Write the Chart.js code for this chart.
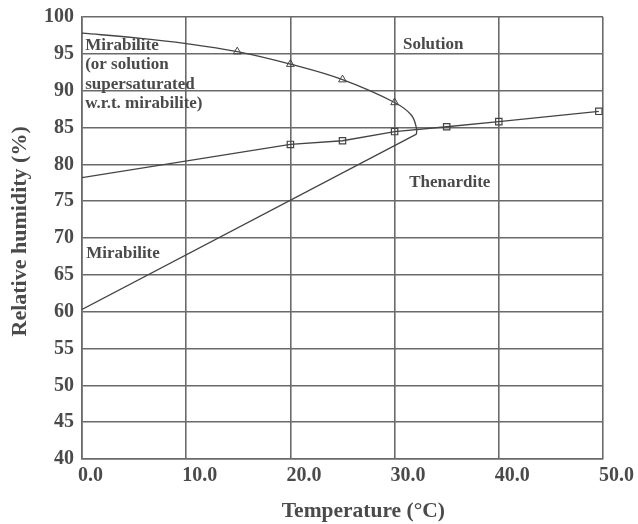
<!DOCTYPE html>
<html lang="en">
<head>
    <meta charset="UTF-8">
    <title>Sodium sulfate phase diagram</title>
    <script src="https://cdn.jsdelivr.net/npm/chart.js"></script>
    <style>
        * { margin: 0; padding: 0; box-sizing: border-box; }
        body { background: #fff; width: 638px; height: 524px; overflow: hidden; }
    </style>
</head>
<body>
    <canvas id="phaseChart" width="638" height="524"></canvas>
    <script>
        // Mirabilite / solution boundary (upper curve, bends back at ~32 C)
        const curveTemp = [0, 5, 10, 14.9, 20, 25, 30, 31.6, 32.1, 32.1];
        const curveRH = [97.8, 97.2, 96.4, 95.3, 93.6, 91.5, 88.4, 86.7, 84.9, 84.1];
        // measured points on that curve (triangles)
        const triTemp = [14.9, 20, 25, 30];
        const triRH = [95.3, 93.6, 91.5, 88.4];
        // mirabilite / thenardite boundary (lower straight branch)
        const lowerTemp = [0, 32.1];
        const lowerRH = [60.3, 84.1];
        // thenardite deliquescence line (squares)
        const thenTemp = [0, 20, 25, 30, 35, 40, 49.6];
        const thenRH = [78.2, 82.7, 83.2, 84.45, 85.1, 85.8, 87.2];
        const thenMarked = [false, true, true, true, true, true, true];

        const xTicks = [0, 10, 20, 30, 40, 50];
        const yTicks = [40, 45, 50, 55, 60, 65, 70, 75, 80, 85, 90, 95, 100];

        const ink = '#4a4a4a';
        const grid = '#6a6a6a';
        const serif = "'Liberation Serif', 'Times New Roman', serif";

        const toPts = (xs, ys) => xs.map((x, i) => ({ x: x, y: ys[i] }));

        // region labels, drawn in data coordinates
        const regionLabels = [
            { lines: ['Mirabilite', '(or solution', 'supersaturated', 'w.r.t. mirabilite)'], x: 0.3, y: 97.25 },
            { lines: ['Solution'], x: 30.8, y: 97.45 },
            { lines: ['Thenardite'], x: 31.4, y: 78.7 },
            { lines: ['Mirabilite'], x: 0.4, y: 69.1 }
        ];

        const labelPlugin = {
            id: 'regionLabels',
            afterDatasetsDraw(chart) {
                const { ctx, scales, chartArea } = chart;
                ctx.save();
                ctx.fillStyle = ink;
                ctx.font = "bold 17px " + serif;
                ctx.textAlign = 'left';
                ctx.textBaseline = 'top';
                regionLabels.forEach(l => {
                    const px = scales.x.getPixelForValue(l.x);
                    const py = scales.y.getPixelForValue(l.y);
                    l.lines.forEach((t, i) => ctx.fillText(t, px, py + i * 19.2));
                });

                // axis titles (the original sits a little off the plot centre)
                ctx.textAlign = 'center';
                ctx.textBaseline = 'middle';
                ctx.font = "bold 21.5px " + serif;
                ctx.fillText('Temperature (°C)', chartArea.left + chartArea.width * 0.54, 511);
                ctx.font = "bold 22px " + serif;
                ctx.translate(20.5, chartArea.top + chartArea.height * 0.485);
                ctx.rotate(-Math.PI / 2);
                ctx.fillText('Relative humidity (%)', 0, 0);
                ctx.restore();
            }
        };

        new Chart(document.getElementById('phaseChart'), {
            type: 'scatter',
            data: {
                datasets: [
                    {
                        data: toPts(curveTemp, curveRH),
                        showLine: true,
                        tension: 0.4,
                        borderColor: '#444',
                        borderWidth: 1.3,
                        pointRadius: 0
                    },
                    {
                        data: toPts(triTemp, triRH),
                        showLine: false,
                        pointStyle: 'triangle',
                        pointRadius: 4.5,
                        borderColor: '#444',
                        borderWidth: 1,
                        backgroundColor: 'rgba(255,255,255,0)'
                    },
                    {
                        data: toPts(lowerTemp, lowerRH),
                        showLine: true,
                        tension: 0,
                        borderColor: '#444',
                        borderWidth: 1.3,
                        pointRadius: 0
                    },
                    {
                        data: toPts(thenTemp, thenRH),
                        showLine: true,
                        tension: 0,
                        borderColor: '#444',
                        borderWidth: 1.3,
                        pointStyle: 'rect',
                        pointRadius: thenMarked.map(m => m ? 4.5 : 0),
                        pointBorderWidth: 1.2,
                        backgroundColor: 'rgba(255,255,255,0)'
                    }
                ]
            },
            options: {
                responsive: false,
                animation: false,
                devicePixelRatio: 1,
                events: [],
                layout: { padding: { top: 17, right: 35, left: 0, bottom: 0 } },
                plugins: { legend: { display: false }, tooltip: { enabled: false } },
                scales: {
                    x: {
                        type: 'linear',
                        min: 0,
                        max: 50,
                        afterBuildTicks: s => { s.ticks = xTicks.map(v => ({ value: v })); },
                        afterFit: s => { s.height = 65; s.paddingLeft = 0; s.paddingRight = 0; },
                        grid: { color: grid, lineWidth: 1.6, drawTicks: false },
                        border: { color: grid, width: 1.6 },
                        ticks: {
                            color: ink,
                            padding: 5,
                            align: 'start',
                            labelOffset: -4,
                            font: { family: serif, size: 20, weight: 'bold' },
                            callback: v => v.toFixed(1)
                        }
                    },
                    y: {
                        min: 40,
                        max: 100,
                        afterBuildTicks: s => { s.ticks = yTicks.map(v => ({ value: v })); },
                        afterFit: s => { s.width = 82; s.paddingTop = 0; s.paddingBottom = 0; },
                        grid: { color: grid, lineWidth: 1.6, drawTicks: false },
                        border: { color: grid, width: 1.6 },
                        ticks: {
                            color: ink,
                            padding: 8,
                            font: { family: serif, size: 20, weight: 'bold' }
                        }
                    }
                }
            },
            plugins: [labelPlugin]
        });
    </script>
</body>
</html>
